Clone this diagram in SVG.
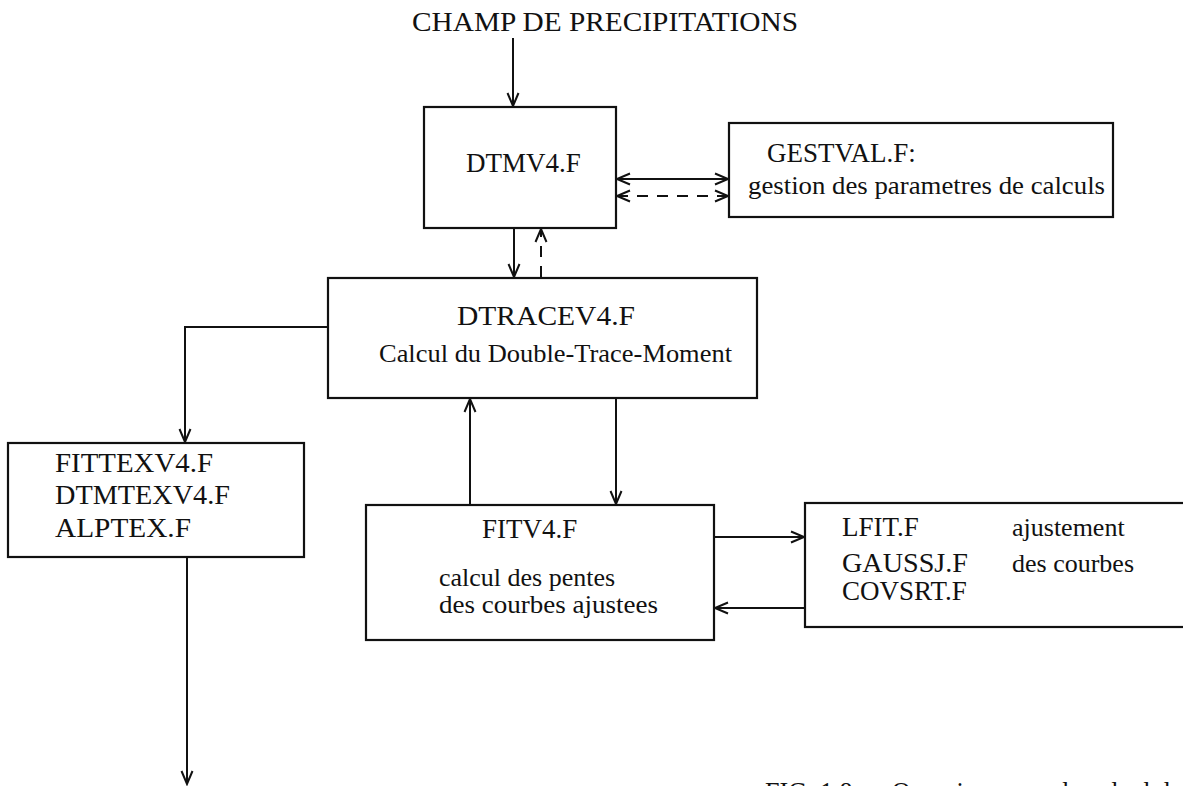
<svg xmlns="http://www.w3.org/2000/svg" width="1183" height="786" viewBox="0 0 1183 786">
<style>
text{font-family:"Liberation Serif","Times New Roman",serif;font-size:27px;fill:#111}
.sm{font-size:26px}
.box{fill:none;stroke:#111;stroke-width:2.2}
.ln{fill:none;stroke:#111;stroke-width:2}
.dash{stroke-dasharray:11 9}
</style>
<defs>
<marker id="arr" markerUnits="userSpaceOnUse" markerWidth="16" markerHeight="14" viewBox="0 0 16 14" refX="14" refY="7" orient="auto-start-reverse">
<path d="M1,1.5 L14,7 L1,12.5" fill="none" stroke="#111" stroke-width="2"/>
</marker>
</defs>
<rect width="1183" height="786" fill="#fff"/>
<g id="title"><text x="412" y="31" textLength="386" lengthAdjust="spacingAndGlyphs">CHAMP DE PRECIPITATIONS</text></g>
<g id="dtmv4"><rect class="box" x="424" y="107" width="192" height="121"/><text x="466" y="172">DTMV4.F</text></g>
<g id="gestval"><rect class="box" x="729" y="123" width="384" height="94"/><text x="767" y="162">GESTVAL.F:</text><text class="sm" x="748" y="194" textLength="357" lengthAdjust="spacingAndGlyphs">gestion des parametres de calculs</text></g>
<g id="dtracev4"><rect class="box" x="328" y="278" width="429" height="120"/><text x="457" y="325" textLength="178" lengthAdjust="spacingAndGlyphs">DTRACEV4.F</text><text class="sm" x="379" y="362" textLength="353" lengthAdjust="spacingAndGlyphs">Calcul du Double-Trace-Moment</text></g>
<g id="fittex"><rect class="box" x="8" y="443" width="296" height="114"/><text x="55" y="472" textLength="158" lengthAdjust="spacingAndGlyphs">FITTEXV4.F</text><text x="55" y="504" textLength="175" lengthAdjust="spacingAndGlyphs">DTMTEXV4.F</text><text x="55" y="537" textLength="136" lengthAdjust="spacingAndGlyphs">ALPTEX.F</text></g>
<g id="fitv4"><rect class="box" x="366" y="505" width="348" height="135"/><text x="482" y="538">FITV4.F</text><text class="sm" x="439" y="586">calcul des pentes</text><text class="sm" x="439" y="613" textLength="219" lengthAdjust="spacingAndGlyphs">des courbes ajustees</text></g>
<g id="lfit"><rect class="box" x="805" y="503" width="390" height="124"/><text x="842" y="536">LFIT.F</text><text class="sm" x="1012" y="536">ajustement</text><text x="842" y="572" textLength="126" lengthAdjust="spacingAndGlyphs">GAUSSJ.F</text><text class="sm" x="1012" y="572">des courbes</text><text x="842" y="600">COVSRT.F</text></g>
<g id="caption"><text x="765" y="801" textLength="418" lengthAdjust="spacingAndGlyphs">FIG. 1.8 — Organigramme du calcul du</text></g>
<g id="connectors">
<line class="ln" x1="513" y1="38" x2="513" y2="106" marker-end="url(#arr)"/>
<line class="ln" x1="617" y1="179" x2="728" y2="179" marker-start="url(#arr)" marker-end="url(#arr)"/>
<line class="ln dash" x1="617" y1="196" x2="728" y2="196" marker-start="url(#arr)" marker-end="url(#arr)"/>
<line class="ln" x1="514" y1="229" x2="514" y2="277" marker-end="url(#arr)"/>
<line class="ln dash" x1="541" y1="277" x2="541" y2="229" marker-end="url(#arr)"/>
<polyline class="ln" points="328,327 185,327 185,442" marker-end="url(#arr)"/>
<line class="ln" x1="187" y1="558" x2="187" y2="784" marker-end="url(#arr)"/>
<line class="ln" x1="470" y1="504" x2="470" y2="399" marker-end="url(#arr)"/>
<line class="ln" x1="616" y1="399" x2="616" y2="504" marker-end="url(#arr)"/>
<line class="ln" x1="715" y1="537" x2="804" y2="537" marker-end="url(#arr)"/>
<line class="ln" x1="804" y1="608" x2="715" y2="608" marker-end="url(#arr)"/>
</g>
</svg>
